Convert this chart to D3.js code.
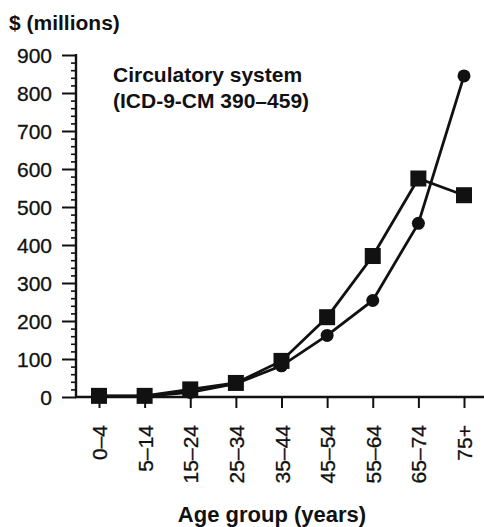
<!DOCTYPE html>
<html lang="en">
<head>
    <meta charset="UTF-8">
    <title>Circulatory system costs by age group</title>
    <style>
        body {
            margin: 0;
            padding: 0;
            background: #fff;
        }
        svg {
            display: block;
            font-family: "Liberation Sans", Arial, sans-serif;
        }
        .tick-label {
            font-size: 21px;
            fill: #111;
            stroke: #111;
            stroke-width: 0.3px;
        }
        .bold {
            font-weight: bold;
            font-size: 21px;
            fill: #111;
        }
    </style>
    <script src="https://d3js.org/d3.v7.min.js"></script>
</head>
<body>
    <svg id="chart" width="484" height="527"></svg>
    <script>
        const ageGroups = ["0–4", "5–14", "15–24", "25–34", "35–44", "45–54", "55–64", "65–74", "75+"];
        const squareSeries = [3, 3, 20, 37, 95, 210, 371, 575, 531];
        const circleSeries = [2, 2, 12, 35, 82, 162, 254, 457, 845];
        const yMajorTicks = [0, 100, 200, 300, 400, 500, 600, 700, 800, 900];
        const yMinorTicks = d3.range(0, 901, 20).filter(v => v % 100 !== 0);

        const svg = d3.select("#chart");
        const ink = "#111";

        const x = d3.scalePoint()
            .domain(ageGroups)
            .range([99, 464]);

        const y = d3.scaleLinear()
            .domain([0, 900])
            .range([397, 55]);

        const axisLeftX = 76;

        // minor ticks on y axis
        svg.append("g")
            .attr("transform", `translate(${axisLeftX},0)`)
            .call(d3.axisLeft(y).tickValues(yMinorTicks).tickSize(5).tickSizeOuter(0).tickFormat(""))
            .call(g => g.select(".domain").remove())
            .call(g => g.selectAll("line").attr("stroke", ink).attr("stroke-width", 1.6));

        // major ticks + labels on y axis
        svg.append("g")
            .attr("transform", `translate(${axisLeftX},0)`)
            .call(d3.axisLeft(y).tickValues(yMajorTicks).tickSize(14).tickSizeOuter(0).tickPadding(10))
            .call(g => g.select(".domain").remove())
            .call(g => g.selectAll("line").attr("stroke", ink).attr("stroke-width", 2))
            .call(g => g.selectAll("text")
                .attr("class", "tick-label")
                .attr("font-family", null)
                .attr("font-size", null)
                .attr("dy", "0.36em"));

        // y axis line
        svg.append("line")
            .attr("x1", axisLeftX).attr("x2", axisLeftX)
            .attr("y1", y(900) - 1).attr("y2", y(0))
            .attr("stroke", ink).attr("stroke-width", 2.4);

        // x axis ticks + labels
        svg.append("g")
            .attr("transform", `translate(0,${y(0)})`)
            .call(d3.axisBottom(x).tickSize(11).tickSizeOuter(0))
            .call(g => g.select(".domain").remove())
            .call(g => g.selectAll("line").attr("stroke", ink).attr("stroke-width", 2))
            .call(g => g.selectAll("text")
                .attr("class", "tick-label")
                .attr("font-family", null)
                .attr("font-size", null)
                .attr("transform", "rotate(-90)")
                .attr("text-anchor", "end")
                .attr("x", -28)
                .attr("y", 0)
                .attr("dy", "0.36em"));

        // x axis line
        svg.append("line")
            .attr("x1", axisLeftX - 1).attr("x2", 484)
            .attr("y1", y(0)).attr("y2", y(0))
            .attr("stroke", ink).attr("stroke-width", 2.6);

        const line = d3.line()
            .x((d, i) => x(ageGroups[i]))
            .y(d => y(d));

        // circle series
        svg.append("path")
            .datum(circleSeries)
            .attr("d", line)
            .attr("fill", "none")
            .attr("stroke", ink)
            .attr("stroke-width", 2.8);

        svg.selectAll(".circle-pt")
            .data(circleSeries)
            .enter().append("circle")
            .attr("class", "circle-pt")
            .attr("cx", (d, i) => x(ageGroups[i]))
            .attr("cy", d => y(d))
            .attr("r", 6.5)
            .attr("fill", ink);

        // square series
        svg.append("path")
            .datum(squareSeries)
            .attr("d", line)
            .attr("fill", "none")
            .attr("stroke", ink)
            .attr("stroke-width", 2.8);

        const sq = 16;
        svg.selectAll(".square-pt")
            .data(squareSeries)
            .enter().append("rect")
            .attr("class", "square-pt")
            .attr("x", (d, i) => x(ageGroups[i]) - sq / 2)
            .attr("y", d => y(d) - sq / 2)
            .attr("width", sq)
            .attr("height", sq)
            .attr("fill", ink);

        // texts
        svg.append("text")
            .attr("class", "bold")
            .attr("x", 9)
            .attr("y", 30)
            .text("$ (millions)");

        svg.append("text")
            .attr("class", "bold")
            .attr("x", 113)
            .attr("y", 82)
            .text("Circulatory system");

        svg.append("text")
            .attr("class", "bold")
            .attr("x", 113)
            .attr("y", 108)
            .text("(ICD-9-CM 390–459)");

        svg.append("text")
            .attr("class", "bold")
            .attr("x", 272)
            .attr("y", 522)
            .attr("text-anchor", "middle")
            .style("font-size", "22px")
            .text("Age group (years)");
    </script>
</body>
</html>
